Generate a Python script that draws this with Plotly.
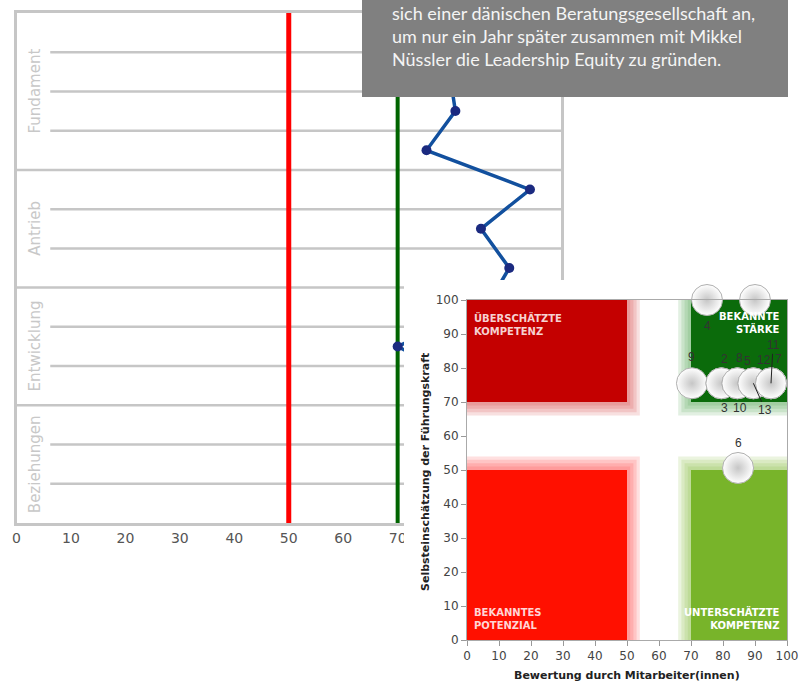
import numpy as np
import plotly.graph_objects as go

W, H = 810, 682

# ---------------- data: profile chart (background) ----------------
groups = ["Fundament", "Antrieb", "Entwicklung", "Beziehungen"]
group_sizes = [4, 3, 3, 3]
profile_values = [84.0, 79.5, 80.6, 75.3, 94.3, 85.3, 90.5, 86.3, 70.0, 84.0, 95.0, 92.0, 89.0]
profile_ticks = [0, 10, 20, 30, 40, 50, 60, 70]
thresholds = [50, 70]          # red line / green line, also quadrant borders

# ---------------- data: portfolio scatter (foreground) ----------------
items = ["1", "2", "3", "4", "5", "6", "7", "8", "9", "10", "11", "12", "13"]
bewertung = [90.0, 79.5, 79.5, 75.0, 89.5, 84.7, 95.0, 84.5, 70.3, 84.5, 95.0, 95.0, 89.5]
selbst = [100.0, 75.5, 75.5, 100.0, 75.5, 50.6, 75.5, 75.5, 75.5, 75.5, 75.5, 75.5, 75.5]
scatter_ticks = [0, 10, 20, 30, 40, 50, 60, 70, 80, 90, 100]
quadrant_names = ["ÜBERSCHÄTZTE<br>KOMPETENZ", "BEKANNTE<br>STÄRKE",
                  "BEKANNTES<br>POTENZIAL", "UNTERSCHÄTZTE<br>KOMPETENZ"]
x_title = "Bewertung durch Mitarbeiter(innen)"
y_title = "Selbsteinschätzung der Führungskraft"

info_lines = ["sich einer dänischen Beratungsgesellschaft an,",
              "um nur ein Jahr später zusammen mit Mikkel",
              "Nüssler die Leadership Equity zu gründen."]

# label offsets in px (dx, dy up) for the bubble labels; item 1 label is hidden
label_offsets = {"2": (3, 24), "3": (3, -25), "4": (0, -26), "5": (-6, 22), "6": (0, 25),
                 "7": (7, 24), "8": (2, 25), "9": (0, 26), "10": (3, -25),
                 "12": (-7, 23)}
leader_offsets = {"11": (2, -38), "13": (12, 27)}


def fx(p):
    return p / W


def fy(p):
    return 1 - p / H


n_rows = sum(group_sizes)
rows = np.arange(n_rows) + 0.5
bounds = np.concatenate([[0], np.cumsum(group_sizes)])
SUB_X0 = 6.2
GRID = "#c6c6c6"

fig = go.Figure()

# profile line
fig.add_trace(go.Scatter(
    x=profile_values, y=rows, mode="lines+markers", xaxis="x", yaxis="y",
    line=dict(color="#12509e", width=3.5), marker=dict(color="#1b2a80", size=10),
    hoverinfo="skip", showlegend=False))

# panel dummy
fig.add_trace(go.Scatter(x=[None], y=[None], xaxis="x2", yaxis="y2",
                         hoverinfo="skip", showlegend=False))

# bubbles, drawn left to right
order = np.argsort(np.array(bewertung), kind="stable")
fig.add_trace(go.Scatter(
    x=np.array(bewertung)[order], y=np.array(selbst)[order], mode="markers",
    xaxis="x3", yaxis="y3", cliponaxis=False,
    marker=dict(size=31, color="#ffffff",
                gradient=dict(type="radial", color="#c6c6c6"),
                line=dict(color="#b0b0b0", width=1)),
    hoverinfo="skip", showlegend=False))

shapes = []
# group separators and row lines
for b in bounds[1:-1]:
    shapes.append(dict(type="line", xref="x", yref="y", x0=0, x1=100, y0=b, y1=b,
                       line=dict(color=GRID, width=2.5), layer="below"))
for gi, size in enumerate(group_sizes):
    for k in range(1, size):
        yv = bounds[gi] + k
        shapes.append(dict(type="line", xref="x", yref="y", x0=SUB_X0, x1=100, y0=yv, y1=yv,
                           line=dict(color=GRID, width=2.5), layer="below"))
# threshold lines
shapes.append(dict(type="line", xref="x", yref="y", x0=thresholds[0], x1=thresholds[0],
                   y0=0, y1=n_rows, line=dict(color="#ff0000", width=5), layer="below"))
shapes.append(dict(type="line", xref="x", yref="y", x0=thresholds[1], x1=thresholds[1],
                   y0=0, y1=n_rows, line=dict(color="#006400", width=4), layer="below"))

# white panel behind the scatter
shapes.append(dict(type="rect", xref="x2", yref="y2", x0=0, x1=1, y0=0, y1=1,
                   fillcolor="#ffffff", line=dict(width=0), layer="below"))

# quadrants
lo, hi = thresholds
quads = [
    ((0, lo, hi, 100), "#c40000", "#d03030"),
    ((hi, 100, hi, 100), "#0b6b0b", "#3d9a3d"),
    ((0, lo, 0, lo), "#ff1000", "#ff3030"),
    ((hi, 100, 0, lo), "#78b42a", "#78b42a"),
]
for (x0, x1, y0, y1), col, glow in quads:
    for k in range(4, 0, -1):
        e = k * 1.0
        shapes.append(dict(type="rect", xref="x3", yref="y3",
                           x0=x0 - e, x1=x1 + e, y0=y0 - e, y1=y1 + e,
                           fillcolor=glow, opacity=0.15, line=dict(width=0), layer="below"))
    shapes.append(dict(type="rect", xref="x3", yref="y3", x0=x0, x1=x1, y0=y0, y1=y1,
                       fillcolor=col, line=dict(width=0), layer="below"))

# grey info box on top
shapes.append(dict(type="rect", xref="paper", yref="paper", x0=fx(362), x1=fx(788),
                   y0=fy(97), y1=1.0, fillcolor="#808080", line=dict(width=0), layer="above"))

annotations = []
for i, t in enumerate(info_lines):
    annotations.append(dict(xref="paper", yref="paper", x=fx(390), y=fy(13.5 + 22.5 * i),
                            xanchor="left", yanchor="middle", text=t, showarrow=False,
                            font=dict(family="Lato", size=18, color="#f4f4f4")))
for gi, g in enumerate(groups):
    annotations.append(dict(xref="x domain", yref="y", x=(35 - 16.5) / 544.5,
                            y=(bounds[gi] + bounds[gi + 1]) / 2, text=g, textangle=-90,
                            showarrow=False, xanchor="center", yanchor="middle",
                            font=dict(family="DejaVu Sans", size=15, color="#c8c8c8")))
# quadrant labels
qpos = [(0.015, 0.975, "left", "top"), (0.985, 0.975, "right", "top"),
        (0.015, 0.02, "left", "bottom"), (0.985, 0.02, "right", "bottom")]
qcol = ["#f6d2d2", "#ffffff", "#ffd6d6", "#ffffff"]
for name, (qx, qy, xa, ya), c in zip(quadrant_names, qpos, qcol):
    annotations.append(dict(xref="x3 domain", yref="y3 domain", x=qx, y=qy, xanchor=xa,
                            yanchor=ya, align=xa, text="<b>" + name + "</b>", showarrow=False,
                            font=dict(family="DejaVu Sans", size=10, color=c)))
# bubble labels
for it, bx, by in zip(items, bewertung, selbst):
    if it in label_offsets:
        dx, dy = label_offsets[it]
        annotations.append(dict(xref="x3", yref="y3", x=bx, y=by, xshift=dx, yshift=dy,
                                xanchor="center", yanchor="middle",
                                text=it, showarrow=False,
                                font=dict(family="Liberation Sans", size=12, color="#333333")))
    elif it in leader_offsets:
        ax, ay = leader_offsets[it]
        annotations.append(dict(xref="x3", yref="y3", x=bx, y=by, ax=ax, ay=ay,
                                text=it, showarrow=True, arrowhead=0, arrowwidth=1,
                                arrowcolor="#222222", standoff=0,
                                font=dict(family="Liberation Sans", size=12, color="#333333")))
# axis titles of the scatter
annotations.append(dict(xref="paper", yref="paper", x=fx(627), y=fy(675),
                        xanchor="center", yanchor="middle", text="<b>" + x_title + "</b>",
                        showarrow=False, font=dict(family="DejaVu Sans", size=11, color="#222222")))
annotations.append(dict(xref="paper", yref="paper", x=fx(425), y=fy(472),
                        xanchor="center", yanchor="middle", text="<b>" + y_title + "</b>",
                        textangle=-90, showarrow=False,
                        font=dict(family="DejaVu Sans", size=11, color="#222222")))

fig.update_layout(
    template="none", width=W, height=H,
    margin=dict(l=0, r=0, t=0, b=0, pad=0),
    paper_bgcolor="#ffffff", plot_bgcolor="#ffffff", showlegend=False,
    xaxis=dict(domain=[fx(16.5), fx(561)], range=[0, 100], tickvals=profile_ticks,
               showgrid=False, zeroline=False, showline=True, mirror=True,
               linecolor=GRID, linewidth=2.5, ticks="", automargin=False,
               tickfont=dict(family="DejaVu Sans", size=14, color="#555555"), anchor="y"),
    yaxis=dict(domain=[fy(523), fy(13)], range=[n_rows, 0], showticklabels=False,
               showgrid=False, zeroline=False, showline=True, mirror=True,
               linecolor=GRID, linewidth=2.5, ticks="", automargin=False, anchor="x"),
    xaxis2=dict(domain=[fx(404), 1.0], range=[0, 1], visible=False, anchor="y2"),
    yaxis2=dict(domain=[0.0, fy(280)], range=[0, 1], visible=False, anchor="x2"),
    xaxis3=dict(domain=[fx(467), fx(787)], range=[0, 100], tickvals=scatter_ticks,
                showgrid=False, zeroline=False, showline=True, mirror=True,
                linecolor="#aaaaaa", linewidth=1, ticks="outside", ticklen=5,
                tickcolor="#999999", automargin=False, anchor="y3",
                tickfont=dict(family="DejaVu Sans", size=12, color="#444444")),
    yaxis3=dict(domain=[fy(640), fy(300)], range=[0, 100], tickvals=scatter_ticks,
                showgrid=False, zeroline=False, showline=True, mirror=True,
                linecolor="#aaaaaa", linewidth=1, ticks="outside", ticklen=5,
                tickcolor="#999999", automargin=False, anchor="x3",
                tickfont=dict(family="DejaVu Sans", size=12, color="#444444")),
    shapes=shapes, annotations=annotations,
)

fig.write_html("out.html")
